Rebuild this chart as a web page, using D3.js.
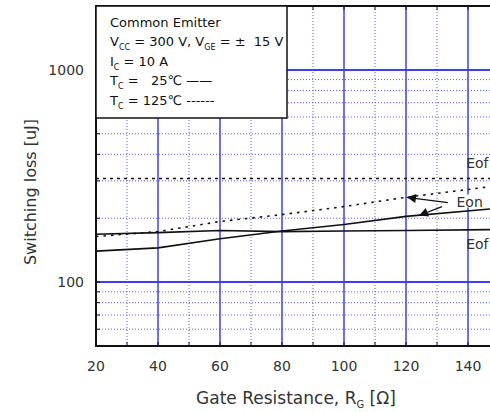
<!DOCTYPE html>
<html>
<head>
<meta charset="utf-8">
<script src="https://cdn.jsdelivr.net/npm/d3@7"></script>
<style>
  body { margin: 0; background: #fff; }
  svg text { font-family: "DejaVu Sans", Verdana, sans-serif; fill: #333; white-space: pre; }
</style>
</head>
<body>
<div id="chart"></div>
<script>
// gate resistance (ohm) sample points
const rg = [20, 40, 60, 80, 100, 120, 150];
// switching loss in uJ
const eon25 = [140, 145, 160, 174, 187, 204, 223];
const eoff25 = [168, 171, 175, 173, 174, 175, 177];
const eon125 = [164, 173, 193, 208, 227, 251, 285];
const eoff125 = [308, 308, 308, 308, 308, 308, 308];

const xTickLabels = [20, 40, 60, 80, 100, 120, 140];
const yTickLabels = [100, 1000];
const xMinor = [30, 50, 70, 90, 110, 130, 150];
const yMinor = [60, 70, 80, 90, 200, 300, 400, 500, 600, 700, 800, 900];

const legendLines = [
  [["Common Emitter", false]],
  [["V", false], ["CC", true], [" = 300 V, V", false], ["GE", true], [" = \u00b1  15 V", false]],
  [["I", false], ["C", true], [" = 10 A", false]],
  [["T", false], ["C", true], [" =   25\u2103 \u2014\u2014", false]],
  [["T", false], ["C", true], [" = 125\u2103 ------", false]]
];

// curve labels [text, rg, uJ] (the right edge of the chart cuts "Eoff")
const curveLabels = [["Eof", 139.4, 346], ["Eon", 136.3, 227], ["Eof", 139.4, 143]];
// arrows [fromRg, fromUJ, toRg, toUJ]
const arrows = [[133.5, 237, 120.3, 251], [131.6, 227, 124.2, 206]];

const width = 490, height = 412;
const dims = { left: 96, right: 499, top: 6, bottom: 346 };

const svg = d3.select('#chart').append('svg')
  .attr('width', width).attr('height', height);

const x = d3.scaleLinear().domain([20, 150]).range([dims.left, dims.right]);
const y = d3.scaleLog().domain([50, 2000]).range([dims.bottom, dims.top]);

const grid = svg.append('g');
// minor grid
grid.selectAll('.vmin').data(xMinor).enter().append('line')
  .attr('x1', d => x(d)).attr('x2', d => x(d))
  .attr('y1', dims.top).attr('y2', dims.bottom)
  .attr('stroke', '#5a5aff').attr('stroke-width', 1).attr('stroke-dasharray', '1,2');
grid.selectAll('.hmin').data(yMinor).enter().append('line')
  .attr('x1', dims.left).attr('x2', width)
  .attr('y1', d => y(d)).attr('y2', d => y(d))
  .attr('stroke', '#5a5aff').attr('stroke-width', 1).attr('stroke-dasharray', '1,2');
// major grid
grid.selectAll('.vmaj').data(xTickLabels.slice(1)).enter().append('line')
  .attr('x1', d => x(d)).attr('x2', d => x(d))
  .attr('y1', dims.top).attr('y2', dims.bottom)
  .attr('stroke', '#3c3cff').attr('stroke-width', 1.5);
grid.selectAll('.hmaj').data(yTickLabels).enter().append('line')
  .attr('x1', dims.left).attr('x2', width)
  .attr('y1', d => y(d)).attr('y2', d => y(d))
  .attr('stroke', '#3c3cff').attr('stroke-width', 2);

// curves
const line = d3.line().x((d, i) => x(rg[i])).y(d => y(d));
const curves = [
  [eon25, null], [eoff25, null], [eon125, '2.5,5'], [eoff125, '3,4']
];
curves.forEach(([vals, dash]) => {
  svg.append('path').attr('d', line(vals))
    .attr('fill', 'none').attr('stroke', '#111')
    .attr('stroke-width', 1.6)
    .attr('stroke-dasharray', dash);
});

// curve labels
curveLabels.forEach(([t, a, b]) => {
  const txt = svg.append('text').attr('x', x(a)).attr('y', y(b))
    .style('font-size', '14px').text(t);
  if (t === 'Eon') {
    const bb = txt.node().getBBox();
    svg.insert('rect', 'text').attr('x', bb.x - 2).attr('y', bb.y + 1)
      .attr('width', bb.width + 40).attr('height', bb.height - 3).attr('fill', '#fff');
  }
});

// arrows
svg.append('defs').append('marker').attr('id', 'ah')
  .attr('viewBox', '0 0 10 10').attr('refX', 10).attr('refY', 5)
  .attr('markerWidth', 17).attr('markerHeight', 9).attr('orient', 'auto')
  .attr('markerUnits', 'userSpaceOnUse')
  .append('path').attr('d', 'M0,0 L10,5 L0,10 Z').attr('fill', '#111');
arrows.forEach(([a, b, c, d]) => {
  svg.append('line').attr('x1', x(a)).attr('y1', y(b)).attr('x2', x(c)).attr('y2', y(d))
    .attr('stroke', '#111').attr('stroke-width', 1.3).attr('marker-end', 'url(#ah)');
});

// axes frame
const axes = svg.append('g');
axes.append('line').attr('x1', dims.left).attr('x2', dims.left)
  .attr('y1', dims.top - 1).attr('y2', dims.bottom + 1)
  .attr('stroke', '#111').attr('stroke-width', 2);
axes.append('line').attr('x1', dims.left - 1).attr('x2', width)
  .attr('y1', dims.bottom).attr('y2', dims.bottom).attr('stroke', '#111').attr('stroke-width', 2);
axes.append('line').attr('x1', dims.left - 1).attr('x2', width)
  .attr('y1', dims.top).attr('y2', dims.top).attr('stroke', '#111').attr('stroke-width', 2);

const xTicksAll = xTickLabels.concat(xMinor);
axes.selectAll('.xt').data(xTicksAll).enter().append('line')
  .attr('x1', d => x(d)).attr('x2', d => x(d))
  .attr('y1', dims.bottom).attr('y2', dims.bottom - 4).attr('stroke', '#111');
axes.selectAll('.xtt').data(xTicksAll).enter().append('line')
  .attr('x1', d => x(d)).attr('x2', d => x(d))
  .attr('y1', dims.top).attr('y2', dims.top + 4).attr('stroke', '#111');
axes.selectAll('.yt').data(yMinor.concat(yTickLabels)).enter().append('line')
  .attr('x1', dims.left).attr('x2', dims.left + 4)
  .attr('y1', d => y(d)).attr('y2', d => y(d)).attr('stroke', '#111');

// tick labels
svg.selectAll('.xl').data(xTickLabels).enter().append('text')
  .attr('x', d => x(d)).attr('y', 371)
  .attr('text-anchor', 'middle').style('font-size', '14px').text(d => d);
svg.selectAll('.yl').data(yTickLabels).enter().append('text')
  .attr('x', 84).attr('y', d => y(d) + 5)
  .attr('text-anchor', 'end').style('font-size', '14px').text(d => d);

// axis titles
const xt = svg.append('text').attr('x', 296).attr('y', 404)
  .attr('text-anchor', 'middle').style('font-size', '17px');
xt.append('tspan').text('Gate Resistance, R');
xt.append('tspan').attr('dy', 4).style('font-size', '10px').text('G');
xt.append('tspan').attr('dy', -4).text(' [\u03a9]');

svg.append('text')
  .attr('transform', 'translate(36,192) rotate(-90)')
  .attr('text-anchor', 'middle').style('font-size', '16px')
  .text('Switching loss [uJ]');

// legend box
const lg = svg.append('g');
lg.append('rect').attr('x', dims.left).attr('y', dims.top)
  .attr('width', 191).attr('height', 112)
  .attr('fill', '#fff').attr('stroke', '#111').attr('stroke-width', 1.5);
legendLines.forEach((parts, i) => {
  const t = lg.append('text').attr('x', 110).attr('y', 27 + i * 19.4)
    .style('font-size', '13px').style('fill', '#111');
  parts.forEach(([s, sub], j) => {
    const ts = t.append('tspan').text(s);
    if (sub) ts.attr('dy', 4).style('font-size', '8px');
    else if (j > 0 && parts[j - 1][1]) ts.attr('dy', -4);
  });
});
</script>
</body>
</html>
